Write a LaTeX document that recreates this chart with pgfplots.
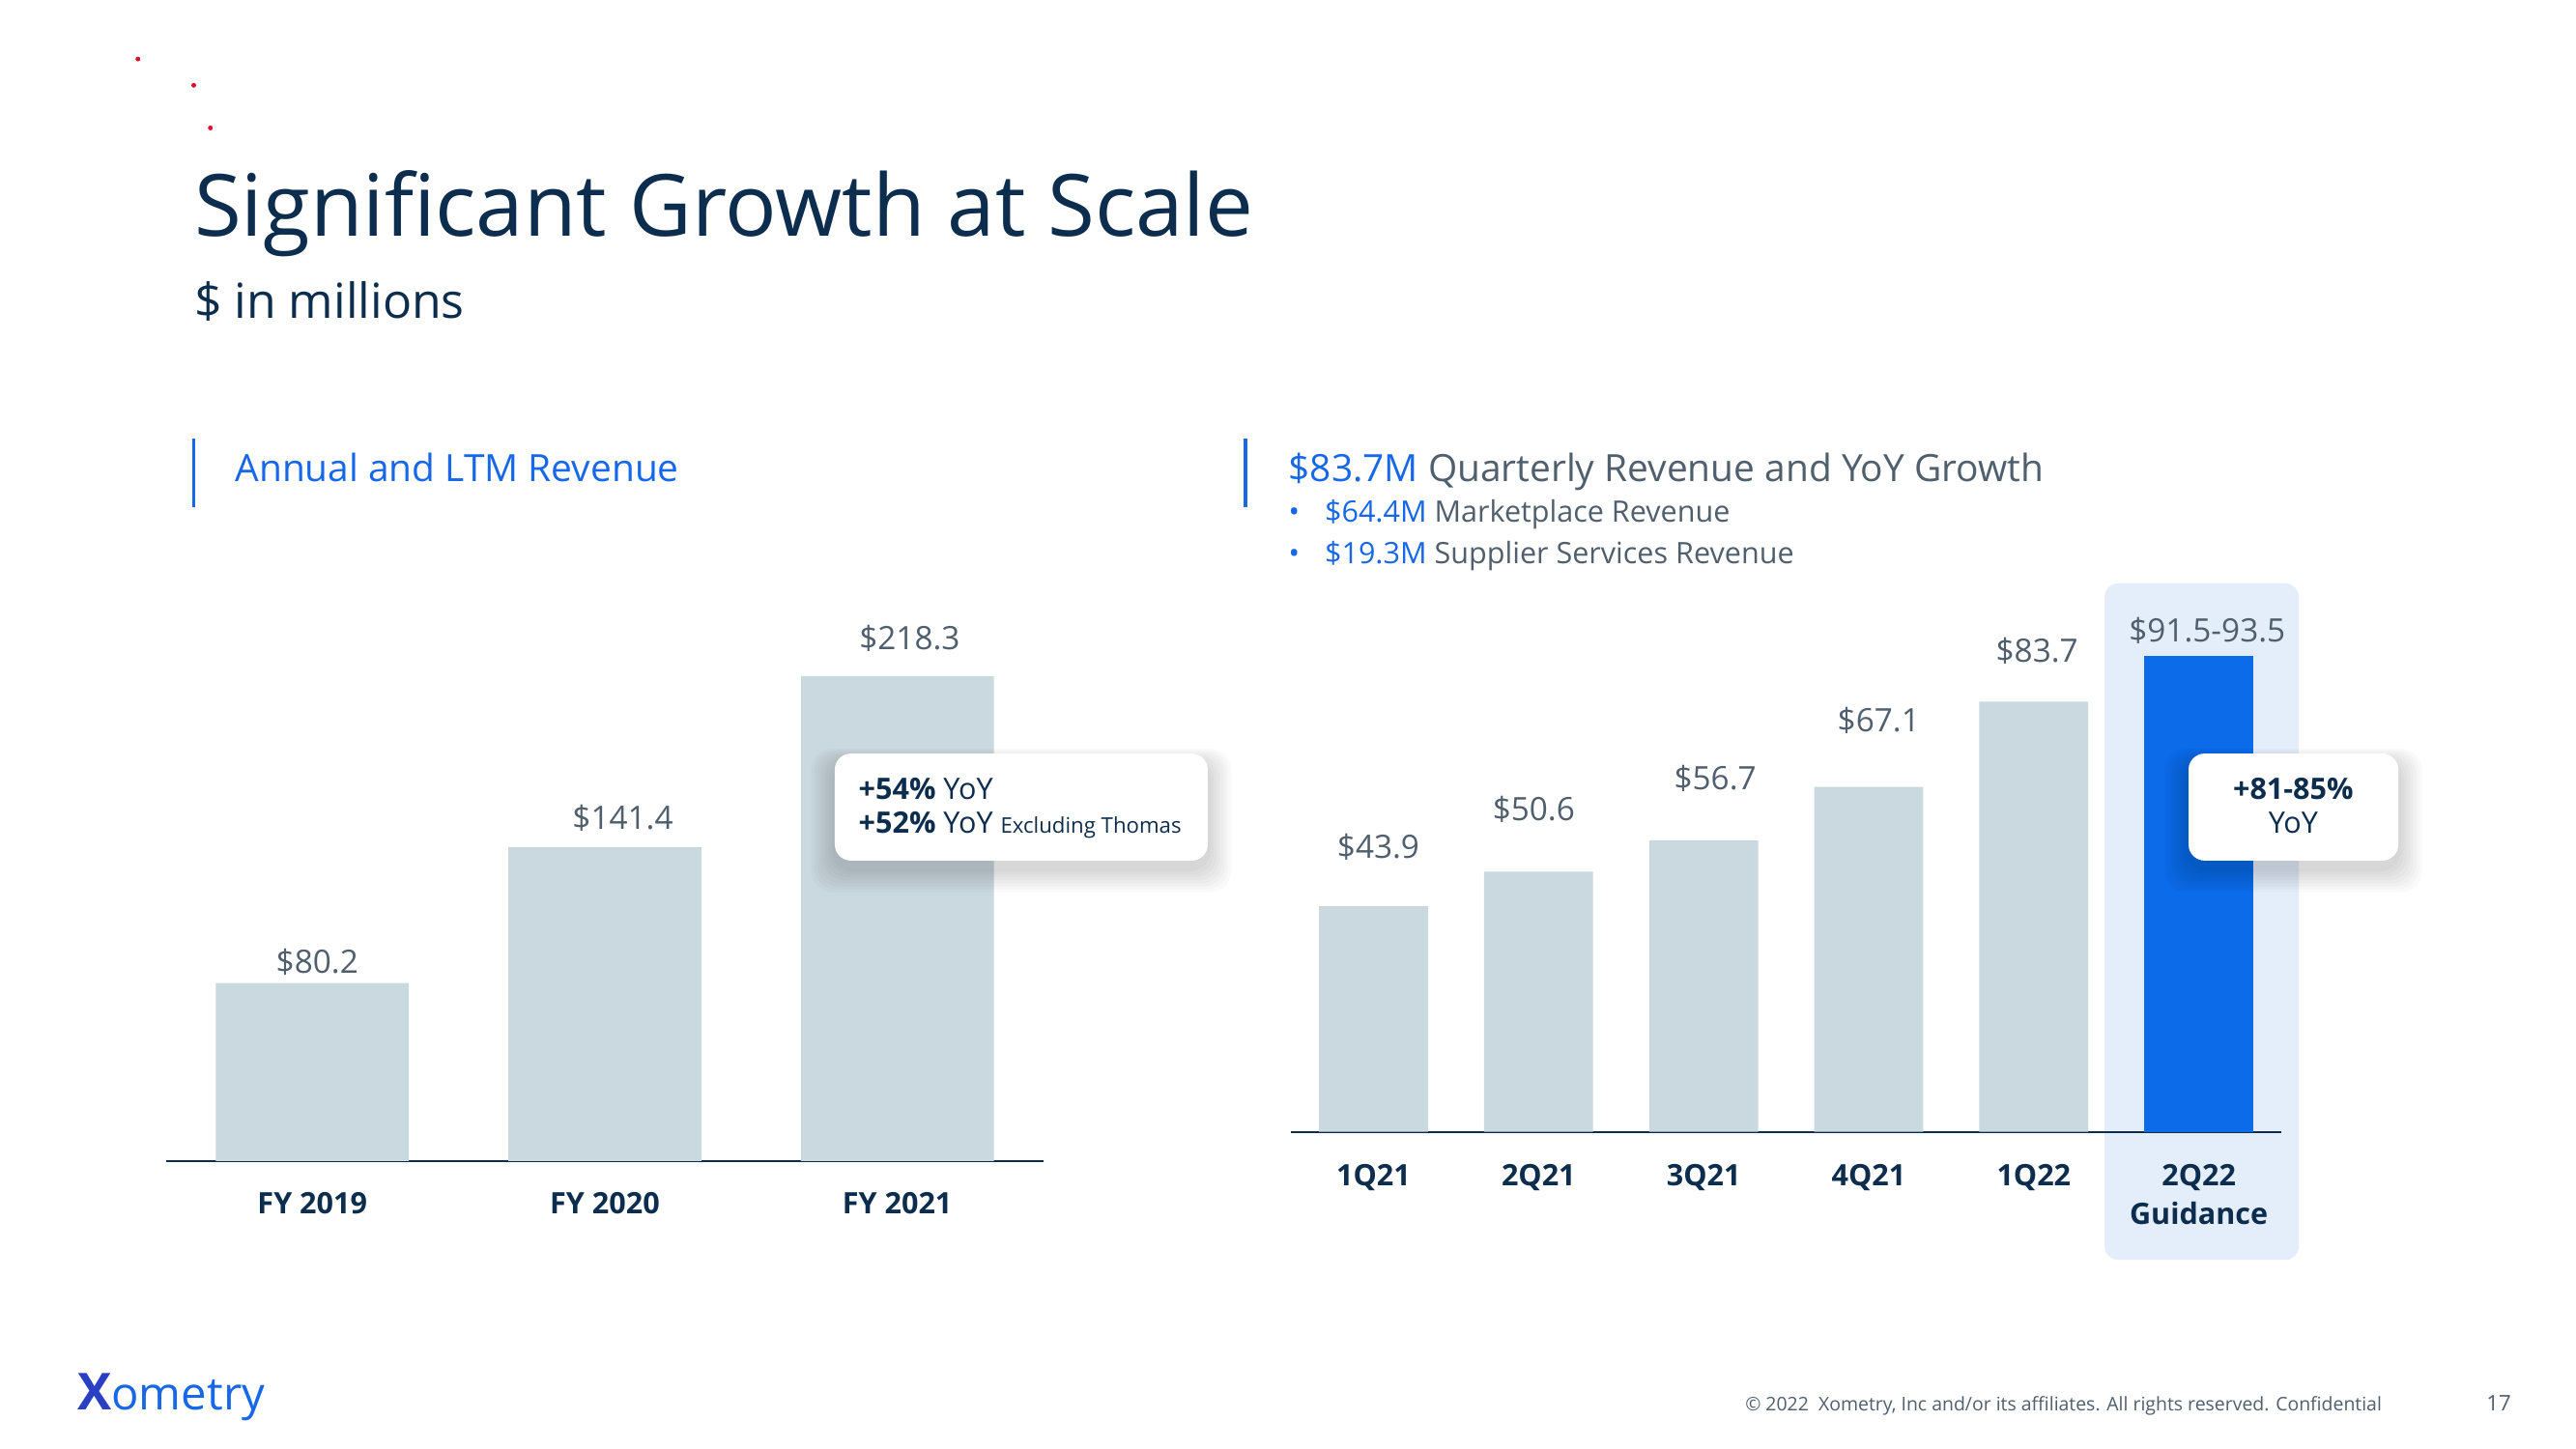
\documentclass[border=0pt]{standalone}
\usepackage{pgfplots}
\pgfplotsset{compat=1.18}
\usepackage{pgfplotstable}
\usepackage{fontspec}
\setmainfont{Open Sans}
\definecolor{navy}{HTML}{0C2D4D}
\definecolor{hblue}{HTML}{1668E8}
\definecolor{bargray}{HTML}{CAD8E0}
\definecolor{labgray}{HTML}{505F6D}
\definecolor{bluebar}{HTML}{0C6BE9}
\definecolor{hilite}{HTML}{E4EEFA}
\definecolor{reddot}{HTML}{E0102A}
\definecolor{xdark}{HTML}{2B3FC4}

\pgfplotstableread{
x y dx dy lab
0 80.2 1.8 -0.6 \$80.2
1 141.4 6.7 2.4 \$141.4
2 218.3 4.6 5.5 \$218.3
}\annual

\pgfplotstableread{
x y dx dy lab
0 43.9 1.8 13.5 \$43.9
1 50.6 -1.8 14.7 \$50.6
2 56.7 4.3 14.7 \$56.7
3 67.1 3.7 16.5 \$67.1
4 83.7 1.2 10.4 \$83.7
}\quarterly

\pgfplotstableread{
x y dx dy lab
5 92.5 3.1 1.2 \$91.5-93.5
}\guidance

\newcommand{\softshadow}[4]{%
  \foreach \s in {1,...,8}{%
    \fill[black, opacity=0.02, rounded corners=8pt]
      ({#1-\s*1.1pt},{#2-\s*1.1pt-3pt}) rectangle ({#3+\s*1.1pt},{#4+\s*0.6pt-3pt});
  }%
}

\begin{document}
\begin{tikzpicture}
\useasboundingbox (0pt,0pt) rectangle (960pt,540pt);
\fill[white] (0pt,0pt) rectangle (960pt,540pt);

% decorative dots
\fill[reddot] (51.4pt,518pt) circle (0.9pt);
\fill[reddot] (72.2pt,508.2pt) circle (0.9pt);
\fill[reddot] (78.4pt,492.3pt) circle (0.9pt);

% title
\node[anchor=base west, inner sep=0, text=navy, font=\fontsize{32}{38}\selectfont] at (72.2pt,452pt) {Significant Growth at Scale};
\node[anchor=base west, inner sep=0, text=navy, font=\fontsize{18}{22}\selectfont] at (72.2pt,421.4pt) {\$ in millions};

% left header
\fill[hblue] (71.6pt,350.9pt) rectangle (72.9pt,376.5pt);
\node[anchor=base west, inner sep=0, text=hblue, font=\fontsize{14}{17}\selectfont] at (87.5pt,360.6pt) {Annual and LTM Revenue};

% right header
\fill[hblue] (463.5pt,350.9pt) rectangle (464.8pt,376.5pt);
\node[anchor=base west, inner sep=0, text=labgray, font=\fontsize{14}{17}\selectfont] at (480pt,360.6pt) {{\color{hblue}\$83.7M} Quarterly Revenue and YoY Growth};
\node[anchor=base west, inner sep=0, text=hblue, font=\fontsize{11}{13}\selectfont] at (480pt,345.3pt) {•};
\node[anchor=base west, inner sep=0, text=labgray, font=\fontsize{11}{13}\selectfont] at (493.5pt,345.3pt) {{\color{hblue}\$64.4M} Marketplace Revenue};
\node[anchor=base west, inner sep=0, text=hblue, font=\fontsize{11}{13}\selectfont] at (480pt,330pt) {•};
\node[anchor=base west, inner sep=0, text=labgray, font=\fontsize{11}{13}\selectfont] at (493.5pt,330pt) {{\color{hblue}\$19.3M} Supplier Services Revenue};

% guidance highlight
\fill[hilite, rounded corners=5pt] (784.3pt,70.4pt) rectangle (856.7pt,322.5pt);

% left chart
\begin{axis}[
  at={(61.9pt,107.2pt)}, anchor=south west, scale only axis,
  width=327pt, height=207pt,
  xmin=-0.5, xmax=2.5, ymin=0, ymax=250,
  axis x line*=bottom, axis y line=none,
  x axis line style={navy, line width=0.8pt},
  xtick={0,1,2}, xticklabels={FY 2019,FY 2020,FY 2021},
  major tick length=0pt,
  xticklabel style={font=\fontsize{11}{13}\selectfont\bfseries, text=navy, yshift=-8pt},
  clip=false,
]
\addplot[ybar, bar width=0.66, bar shift=0pt, fill=bargray, draw=none,
  point meta=explicit symbolic,
  visualization depends on={\thisrow{dy} \as \dy},
  visualization depends on={\thisrow{dx} \as \dx},
  nodes near coords,
  every node near coord/.append style={font=\fontsize{12}{14}\selectfont, text=labgray, yshift=\dy pt, xshift=\dx pt}]
  table[x=x, y=y, meta=lab] {\annual};
\end{axis}

% right chart
\begin{axis}[
  at={(481.1pt,118.1pt)}, anchor=south west, scale only axis,
  width=369.1pt, height=191.6pt,
  xmin=-0.5, xmax=5.5, ymin=0, ymax=100,
  axis x line*=bottom, axis y line=none,
  x axis line style={navy, line width=0.8pt},
  xtick={0,1,2,3,4,5}, xticklabels={1Q21,2Q21,3Q21,4Q21,1Q22,{2Q22\\Guidance}},
  major tick length=0pt,
  xticklabel style={font=\fontsize{11}{14.6}\selectfont\bfseries, text=navy, align=center, yshift=-8.5pt},
  clip=false,
]
\addplot[ybar, bar width=0.66, bar shift=0pt, fill=bargray, draw=none,
  point meta=explicit symbolic,
  visualization depends on={\thisrow{dy} \as \dy},
  visualization depends on={\thisrow{dx} \as \dx},
  nodes near coords,
  every node near coord/.append style={font=\fontsize{12}{14}\selectfont, text=labgray, yshift=\dy pt, xshift=\dx pt}]
  table[x=x, y=y, meta=lab] {\quarterly};
\addplot[ybar, bar width=0.66, bar shift=0pt, fill=bluebar, draw=none,
  point meta=explicit symbolic,
  visualization depends on={\thisrow{dy} \as \dy},
  visualization depends on={\thisrow{dx} \as \dx},
  nodes near coords,
  every node near coord/.append style={font=\fontsize{12}{14}\selectfont, text=labgray, yshift=\dy pt, xshift=\dx pt}]
  table[x=x, y=y, meta=lab] {\guidance};
\end{axis}

% left callout
\softshadow{311.1pt}{219.2pt}{450.1pt}{259.1pt}
\fill[white, rounded corners=6pt] (311.1pt,219.2pt) rectangle (450.1pt,259.1pt);
\node[anchor=base west, inner sep=0, text=navy, font=\fontsize{11}{13}\selectfont] at (319.8pt,242.2pt) {\textbf{+54\%} YoY};
\node[anchor=base west, inner sep=0, text=navy, font=\fontsize{11}{13}\selectfont] at (319.8pt,229.3pt) {\textbf{+52\%} YoY {\fontsize{8}{10}\selectfont Excluding Thomas}};

% right callout
\softshadow{815.6pt}{219.2pt}{893.8pt}{259.1pt}
\fill[white, rounded corners=6pt] (815.6pt,219.2pt) rectangle (893.8pt,259.1pt);
\node[anchor=base, inner sep=0, text=navy, font=\fontsize{11}{13}\selectfont\bfseries] at (854.6pt,242.2pt) {+81-85\%};
\node[anchor=base, inner sep=0, text=navy, font=\fontsize{11}{13}\selectfont] at (854.6pt,229.3pt) {YoY};

% footer
\node[anchor=base west, inner sep=0, font=\fontsize{17}{20}\selectfont] at (28.7pt,14.6pt) {{\fontsize{19}{20}\selectfont\bfseries\color{xdark}X}{\color{hblue}ometry}};
\node[anchor=base east, inner sep=0, text=labgray, font=\fontsize{7}{8}\selectfont] at (887.8pt,14pt) {© 2022\ \ Xometry, Inc and/or its affiliates. All rights reserved. Confidential};
\node[anchor=base, inner sep=0, text=labgray, font=\fontsize{8}{10}\selectfont] at (931.2pt,14pt) {17};
\end{tikzpicture}
\end{document}
